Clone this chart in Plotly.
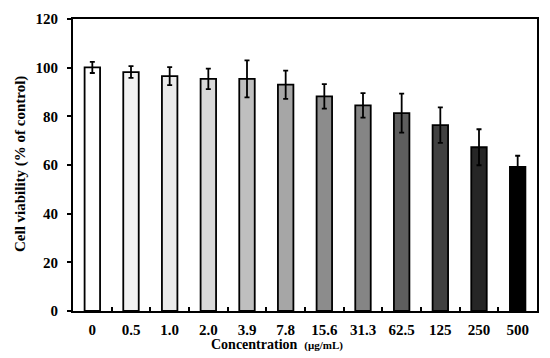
import plotly.graph_objects as go

concentrations = ["0", "0.5", "1.0", "2.0", "3.9", "7.8", "15.6", "31.3", "62.5", "125", "250", "500"]
viability = [100.1, 98.2, 96.5, 95.4, 95.4, 93.0, 88.2, 84.5, 81.3, 76.4, 67.3, 59.2]
errors = [2.3, 2.4, 3.7, 4.2, 7.6, 5.8, 5.0, 5.0, 8.0, 7.3, 7.4, 4.6]
colors = ["#ffffff", "#f2f2f2", "#ebebeb", "#d9d9d9", "#bfbfbf", "#a6a6a6",
          "#8c8c8c", "#858585", "#5e5e5e", "#414141", "#262626", "#000000"]

FONT = "'Liberation Serif', 'Times New Roman', serif"

fig = go.Figure()
fig.add_trace(go.Bar(
    x=concentrations, y=viability,
    marker=dict(color=colors, line=dict(color="black", width=1.8)),
    error_y=dict(type="data", array=errors, visible=True, color="black", thickness=1.8, width=2.5),
    width=0.4,
))

fig.update_layout(
    width=542, height=350,
    margin=dict(l=65, r=13, t=9, b=47),
    plot_bgcolor="white", paper_bgcolor="white",
    showlegend=False,
    font=dict(family=FONT, color="black"),
)
fig.update_xaxes(
    type="category",
    showline=True, linecolor="black", linewidth=2, mirror=True,
    ticks="inside", tickson="boundaries", ticklen=4, tickwidth=1.5, tickcolor="black",
    tickfont=dict(family=FONT, size=15, color="black", weight="bold"),
    ticklabelstandoff=4,
    showgrid=False,
)
fig.update_yaxes(
    range=[0, 120], tickvals=[0, 20, 40, 60, 80, 100, 120],
    showline=True, linecolor="black", linewidth=2, mirror=True,
    ticks="outside", ticklen=4, tickwidth=1.5, tickcolor="black",
    tickfont=dict(family=FONT, size=15, color="black", weight="bold"),
    ticklabelstandoff=6,
    showgrid=False, zeroline=False,
    automargin=False,
)
fig.add_annotation(
    x=-(73 - 20) / 464, y=(311 - 163) / 294, xref="paper", yref="paper",
    xanchor="center", yanchor="middle",
    text="<b>Cell viability (% of control)</b>", textangle=-90,
    showarrow=False, font=dict(family=FONT, size=15, color="black"),
)
fig.add_annotation(
    x=(277 - 73) / 464, y=-(345 - 311) / 294, xref="paper", yref="paper",
    xanchor="center", yanchor="middle",
    text="<b>Concentration</b>  <b><span style='font-size:11px'>(μg/mL)</span></b>",
    showarrow=False, font=dict(family=FONT, size=14, color="black"),
)

fig.write_html("out.html")
